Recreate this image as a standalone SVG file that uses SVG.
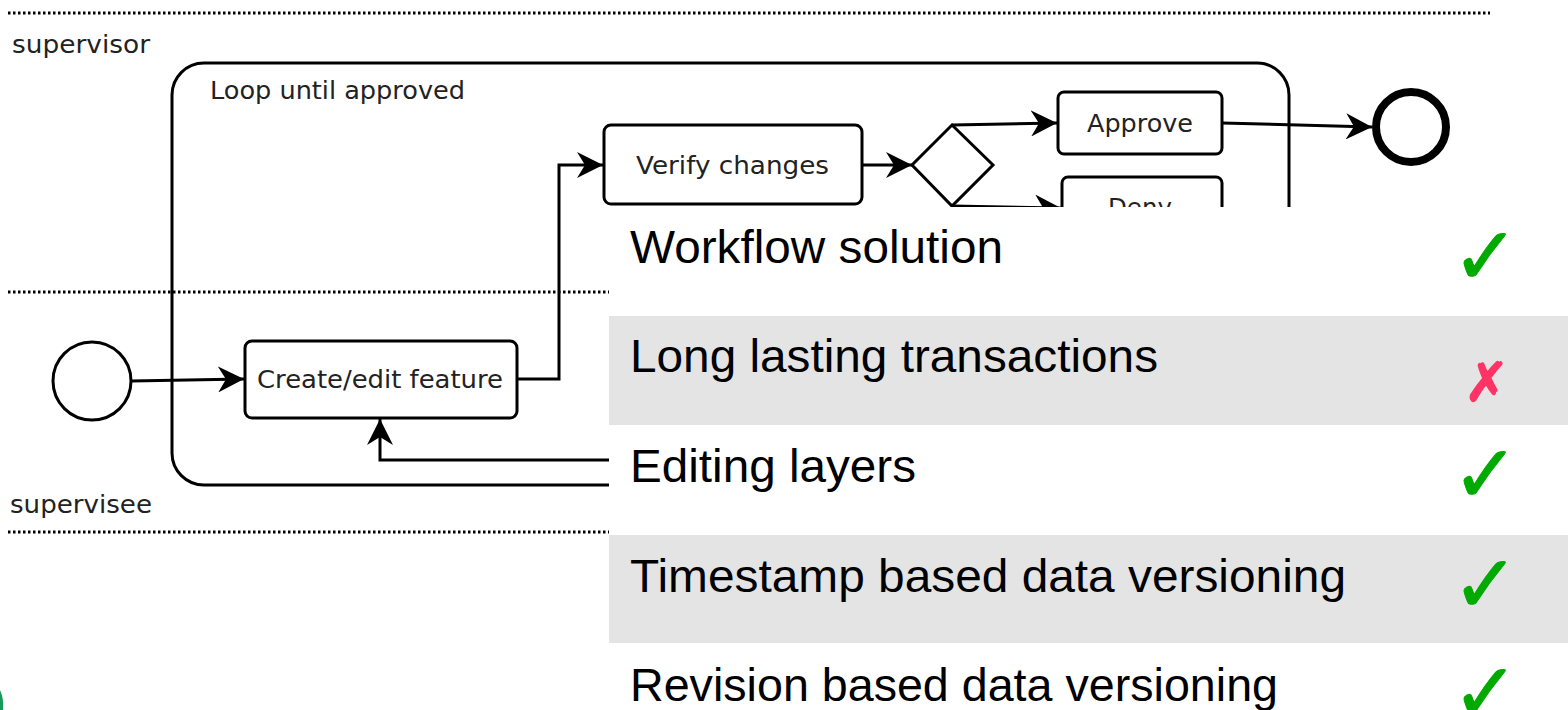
<svg xmlns="http://www.w3.org/2000/svg" width="1568" height="710" viewBox="0 0 1568 710">
<defs>
<style>
.lbl{font-family:"DejaVu Sans",sans-serif;font-size:24px;fill:#222}
.box{fill:#fff;stroke:#000;stroke-width:3}
.dot{stroke:#000;stroke-width:3;stroke-dasharray:2.5 2.5;fill:none}
.con{stroke:#000;stroke-width:3;fill:none}
.row{font-family:"Liberation Sans",Arial,sans-serif;font-size:47px;fill:#000}
.ok{font-family:"DejaVu Sans",sans-serif;font-size:80px;fill:#00aa00;stroke:#00aa00;stroke-width:1}
.no{font-family:"DejaVu Sans",sans-serif;font-size:54px;fill:#ff3366;stroke:#ff3366;stroke-width:1.5}
</style>
<marker id="arr" markerUnits="userSpaceOnUse" markerWidth="28" markerHeight="26" refX="26" refY="13" orient="auto">
<path d="M0,0 L26,13 L0,26 L8,13 Z" fill="#000"/>
</marker>
</defs>
<rect width="1568" height="710" fill="#fff"/>
<g id="lanes">
<line class="dot" x1="8" y1="13" x2="1490" y2="13"/>
<line class="dot" x1="8" y1="292" x2="609" y2="292"/>
<line class="dot" x1="8" y1="532" x2="609" y2="532"/>
<text class="lbl" x="12" y="53" textLength="138" lengthAdjust="spacingAndGlyphs">supervisor</text>
<text class="lbl" x="10" y="513" textLength="142" lengthAdjust="spacingAndGlyphs">supervisee</text>
</g>
<g id="loop">
<rect x="172" y="63" width="1117" height="422" rx="32" ry="32" fill="none" stroke="#000" stroke-width="3"/>
<text class="lbl" x="210" y="99" textLength="255" lengthAdjust="spacingAndGlyphs">Loop until approved</text>
</g>
<g id="start"><circle cx="92" cy="381" r="39" fill="#fff" stroke="#000" stroke-width="3"/></g>
<g id="create">
<rect class="box" x="245" y="341" width="272" height="77" rx="7"/>
<text class="lbl" x="257" y="388" textLength="246" lengthAdjust="spacingAndGlyphs">Create/edit feature</text>
</g>
<g id="verify">
<rect class="box" x="604" y="125" width="258" height="79" rx="7"/>
<text class="lbl" x="636" y="174" textLength="193" lengthAdjust="spacingAndGlyphs">Verify changes</text>
</g>
<g id="gateway"><path d="M952,125 L993,165 L952,206 L912,165 Z" fill="#fff" stroke="#000" stroke-width="3"/></g>
<g id="approve">
<rect class="box" x="1058" y="92" width="164" height="62" rx="6"/>
<text class="lbl" x="1087" y="132" textLength="106" lengthAdjust="spacingAndGlyphs">Approve</text>
</g>
<g id="deny">
<rect class="box" x="1062" y="177" width="160" height="62" rx="6"/>
<text class="lbl" x="1108" y="216" textLength="64" lengthAdjust="spacingAndGlyphs">Deny</text>
</g>
<g id="end"><circle cx="1411" cy="127" r="35" fill="#fff" stroke="#000" stroke-width="8"/></g>
<g id="connectors">
<path class="con" d="M131,381 L244,379" marker-end="url(#arr)"/>
<path class="con" d="M517,379 H559 V165 H603" marker-end="url(#arr)"/>
<path class="con" d="M862,165 H912" marker-end="url(#arr)"/>
<path class="con" d="M952,125 L1057,123" marker-end="url(#arr)"/>
<path class="con" d="M952,206 L1061,208" marker-end="url(#arr)"/>
<path class="con" d="M1222,123 L1372,127" marker-end="url(#arr)"/>
<path class="con" d="M609,460 H380 V419" marker-end="url(#arr)"/>
</g>
<path d="M0,690 Q4,698 3,710 L0,710 Z" fill="#1a9a5a"/>
<g id="table">
<rect x="609" y="207" width="959" height="503" fill="#fff"/>
<rect x="609" y="316" width="959" height="109" fill="#e4e4e4"/>
<rect x="609" y="535" width="959" height="108" fill="#e4e4e4"/>
<text class="row" x="630" y="263" textLength="373" lengthAdjust="spacingAndGlyphs">Workflow solution</text>
<text class="row" x="630" y="372" textLength="528" lengthAdjust="spacingAndGlyphs">Long lasting transactions</text>
<text class="row" x="630" y="482" textLength="286" lengthAdjust="spacingAndGlyphs">Editing layers</text>
<text class="row" x="630" y="592" textLength="716" lengthAdjust="spacingAndGlyphs">Timestamp based data versioning</text>
<text class="row" x="630" y="701" textLength="648" lengthAdjust="spacingAndGlyphs">Revision based data versioning</text>
<text class="ok" x="1452" y="284">✓</text>
<text class="no" x="1464" y="401">✗</text>
<text class="ok" x="1452" y="502">✓</text>
<text class="ok" x="1452" y="612">✓</text>
<text class="ok" x="1452" y="720">✓</text>
</g>
</svg>
